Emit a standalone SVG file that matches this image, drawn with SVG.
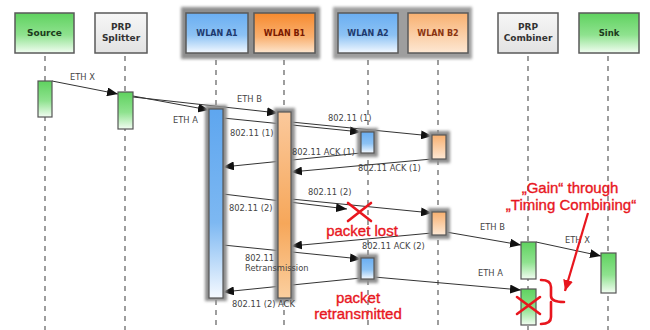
<svg xmlns="http://www.w3.org/2000/svg" width="650" height="330" viewBox="0 0 650 330">
<defs>
<linearGradient id="gGreen" x1="0" y1="0" x2="0" y2="1"><stop offset="0" stop-color="#5fd25f"/><stop offset="0.55" stop-color="#8fe28f"/><stop offset="1" stop-color="#f2fdf2"/></linearGradient>
<linearGradient id="gGray" x1="0" y1="0" x2="0" y2="1"><stop offset="0" stop-color="#f6f6f6"/><stop offset="1" stop-color="#e2e2e2"/></linearGradient>
<linearGradient id="gBlue" x1="0" y1="0" x2="0" y2="1"><stop offset="0" stop-color="#6aaef2"/><stop offset="0.55" stop-color="#8cc2f4"/><stop offset="1" stop-color="#f4f9ff"/></linearGradient>
<linearGradient id="gOrange" x1="0" y1="0" x2="0" y2="1"><stop offset="0" stop-color="#f78a2e"/><stop offset="0.6" stop-color="#f9b070"/><stop offset="1" stop-color="#fde6cf"/></linearGradient>
<linearGradient id="gBarBlue" x1="0" y1="0" x2="0" y2="1"><stop offset="0" stop-color="#5ea6ef"/><stop offset="0.6" stop-color="#7db8f2"/><stop offset="1" stop-color="#f6faff"/></linearGradient>
<linearGradient id="gBarOrange" x1="0" y1="0" x2="0" y2="1"><stop offset="0" stop-color="#fbc99c"/><stop offset="0.6" stop-color="#f6a75a"/><stop offset="1" stop-color="#fbcf9f"/></linearGradient>
<linearGradient id="gSmallOrange" x1="0" y1="0" x2="0" y2="1"><stop offset="0" stop-color="#f8b070"/><stop offset="1" stop-color="#fde8d4"/></linearGradient>
<filter id="blur" x="-20%" y="-20%" width="140%" height="140%"><feGaussianBlur stdDeviation="1.5"/></filter>
<marker id="ah" markerUnits="userSpaceOnUse" markerWidth="12" markerHeight="9" refX="11" refY="4.5" orient="auto"><path d="M0,0 L11,4.5 L0,9 z" fill="#111"/></marker>
<marker id="ahr" markerUnits="userSpaceOnUse" markerWidth="12" markerHeight="10" refX="11" refY="5" orient="auto"><path d="M0,0 L11,5 L0,10 z" fill="#e8161e"/></marker>
</defs>
<style>
.hdr{stroke:#5a5a5a;stroke-width:1.5}
.ht{font-family:"DejaVu Sans",Verdana,sans-serif;font-weight:bold;text-anchor:middle}
.life{stroke:#6a6a6a;stroke-width:1.3;stroke-dasharray:5,5;fill:none}
.bar{stroke:#555;stroke-width:1.2}
.shadow{fill:#8e8e8e;filter:url(#blur)}
.msg{stroke:#333;stroke-width:1;fill:none;marker-end:url(#ah)}
.lbl{font-family:"DejaVu Sans",Verdana,sans-serif;font-size:8.3px;fill:#444}
.red{font-family:"Liberation Sans",Arial,sans-serif;font-size:15px;fill:#e8161e;stroke:#e8161e;stroke-width:0.35;text-anchor:middle}
.rs{stroke:#e8161e;stroke-width:2.6;fill:none;stroke-linecap:round}
</style>
<rect width="650" height="330" fill="#ffffff"/>
<g id="backdrops">
<rect class="shadow" x="181" y="7" width="139" height="52"/>
<rect class="shadow" x="333" y="7" width="139" height="52" opacity="0.85"/>
</g>
<g id="lifelines">
<line class="life" x1="45" y1="56" x2="45" y2="330"/>
<line class="life" x1="125" y1="56" x2="125" y2="330"/>
<line class="life" x1="216" y1="60" x2="216" y2="330"/>
<line class="life" x1="284" y1="60" x2="284" y2="330"/>
<line class="life" x1="368" y1="60" x2="368" y2="330"/>
<line class="life" x1="438" y1="60" x2="438" y2="330"/>
<line class="life" x1="528" y1="56" x2="528" y2="330"/>
<line class="life" x1="608" y1="56" x2="608" y2="330"/>
</g>
<g id="node-source"><rect class="hdr" x="15" y="13" width="59" height="40" fill="url(#gGreen)"/><text class="ht" x="44.5" y="36" font-size="9" fill="#1d3a1d">Source</text></g>
<g id="node-splitter"><rect class="hdr" x="95" y="13" width="52" height="40" fill="url(#gGray)"/><text class="ht" x="121" y="30" font-size="9" fill="#333">PRP</text><text class="ht" x="121" y="41" font-size="9" fill="#333">Splitter</text></g>
<g id="node-wlan-a1"><rect class="hdr" x="186" y="13" width="62" height="40" fill="url(#gBlue)"/><text class="ht" x="217" y="36" font-size="8" fill="#1e3a6e">WLAN A1</text></g>
<g id="node-wlan-b1"><rect class="hdr" x="254" y="13" width="61" height="40" fill="url(#gOrange)"/><text class="ht" x="284.5" y="36" font-size="8" fill="#7a1a00">WLAN B1</text></g>
<g id="node-wlan-a2"><rect class="hdr" x="338" y="13" width="60" height="40" fill="url(#gBlue)"/><text class="ht" x="368" y="36" font-size="8" fill="#1e3a6e">WLAN A2</text></g>
<g id="node-wlan-b2"><rect class="hdr" x="408" y="13" width="60" height="40" fill="url(#gSmallOrange)"/><text class="ht" x="438" y="36" font-size="8" fill="#8a3410">WLAN B2</text></g>
<g id="node-combiner"><rect class="hdr" x="498" y="13" width="60" height="40" fill="url(#gGray)"/><text class="ht" x="528" y="30" font-size="9" fill="#333">PRP</text><text class="ht" x="528" y="41" font-size="9" fill="#333">Combiner</text></g>
<g id="node-sink"><rect class="hdr" x="579" y="13" width="60" height="40" fill="url(#gGreen)"/><text class="ht" x="609" y="36" font-size="8.5" fill="#1d3a1d">Sink</text></g>
<g id="connectors">
<line class="msg" x1="52" y1="81" x2="118" y2="94"/>
<line class="msg" x1="133" y1="96" x2="209" y2="110"/>
<line class="msg" x1="133" y1="97" x2="278" y2="113"/>
<line class="msg" x1="223" y1="118" x2="361" y2="132"/>
<line class="msg" x1="291" y1="122" x2="432" y2="136"/>
<line class="msg" x1="361" y1="153" x2="223" y2="167"/>
<line class="msg" x1="432" y1="159" x2="291" y2="172"/>
<line class="msg" x1="223" y1="194" x2="347" y2="209"/>
<line class="msg" x1="291" y1="199" x2="432" y2="213"/>
<line class="msg" x1="432" y1="233" x2="291" y2="246"/>
<line class="msg" x1="446" y1="232" x2="521" y2="245"/>
<line class="msg" x1="536" y1="242" x2="601" y2="256"/>
<line class="msg" x1="223" y1="245" x2="361" y2="259"/>
<line class="msg" x1="361" y1="278" x2="223" y2="292"/>
<line class="msg" x1="374" y1="277" x2="521" y2="290"/>
</g>
<g id="activations">
<rect class="bar" x="38" y="81" width="14" height="36" fill="url(#gGreen)"/>
<rect class="bar" x="118" y="92" width="15" height="37" fill="url(#gGreen)"/>
<rect class="shadow" x="205" y="105" width="22" height="196"/>
<rect class="bar" x="209" y="109" width="14" height="189" fill="url(#gBarBlue)"/>
<rect class="shadow" x="274" y="108" width="21" height="194"/>
<rect class="bar" x="278" y="112" width="13" height="186" fill="url(#gBarOrange)" stroke="#c0c0c0"/>
<rect class="shadow" x="357" y="128" width="21" height="29"/>
<rect class="bar" x="361" y="132" width="13" height="21" fill="url(#gBlue)"/>
<rect class="shadow" x="428" y="131" width="22" height="32"/>
<rect class="bar" x="432" y="135" width="14" height="24" fill="url(#gSmallOrange)"/>
<rect class="shadow" x="428" y="208" width="22" height="31"/>
<rect class="bar" x="432" y="212" width="14" height="23" fill="url(#gSmallOrange)"/>
<rect class="shadow" x="357" y="254" width="21" height="29"/>
<rect class="bar" x="361" y="258" width="13" height="21" fill="url(#gBlue)"/>
<rect class="bar" x="521" y="242" width="15" height="37" fill="url(#gGreen)"/>
<rect class="bar" x="521" y="289" width="15" height="36" fill="url(#gGreen)"/>
<rect class="bar" x="601" y="253" width="15" height="40" fill="url(#gGreen)"/>
</g>
<g id="labels">
<text class="lbl" x="70" y="80">ETH X</text>
<text class="lbl" x="173" y="123">ETH A</text>
<text class="lbl" x="237" y="102">ETH B</text>
<text class="lbl" x="230" y="136">802.11 (1)</text>
<text class="lbl" x="328" y="121">802.11 (1)</text>
<text class="lbl" x="292" y="155">802.11 ACK (1)</text>
<text class="lbl" x="358" y="171">802.11 ACK (1)</text>
<text class="lbl" x="229" y="211">802.11 (2)</text>
<text class="lbl" x="308" y="195">802.11 (2)</text>
<text class="lbl" x="362" y="248.5">802.11 ACK (2)</text>
<text class="lbl" x="480" y="230">ETH B</text>
<text class="lbl" x="565" y="243">ETH X</text>
<text class="lbl" x="245" y="261">802.11</text>
<text class="lbl" x="245" y="271">Retransmission</text>
<text class="lbl" x="232" y="307">802.11 (2) ACK</text>
<text class="lbl" x="478" y="276">ETH A</text>
</g>
<g id="annotations">
<path class="rs" d="M348,203 L371,221 M371,203 L348,221"/>
<path class="rs" d="M517,297 L540,314 M540,297 L517,314"/>
<path class="rs" d="M541,280 Q551,280 551,287 L551,296 Q551,302 564,302 M551,302 Q551,302 551,308 L551,317 Q551,324 541,324"/>
<line x1="588" y1="213" x2="565" y2="291" stroke="#e8161e" stroke-width="2.2" marker-end="url(#ahr)"/>
<text class="red" x="362" y="235.5">packet lost</text>
<text class="red" x="358" y="303">packet</text>
<text class="red" x="358" y="319">retransmitted</text>
<text class="red" x="570" y="193">„Gain“ through</text>
<text class="red" x="571" y="210">„Timing Combining“</text>
</g>
</svg>
